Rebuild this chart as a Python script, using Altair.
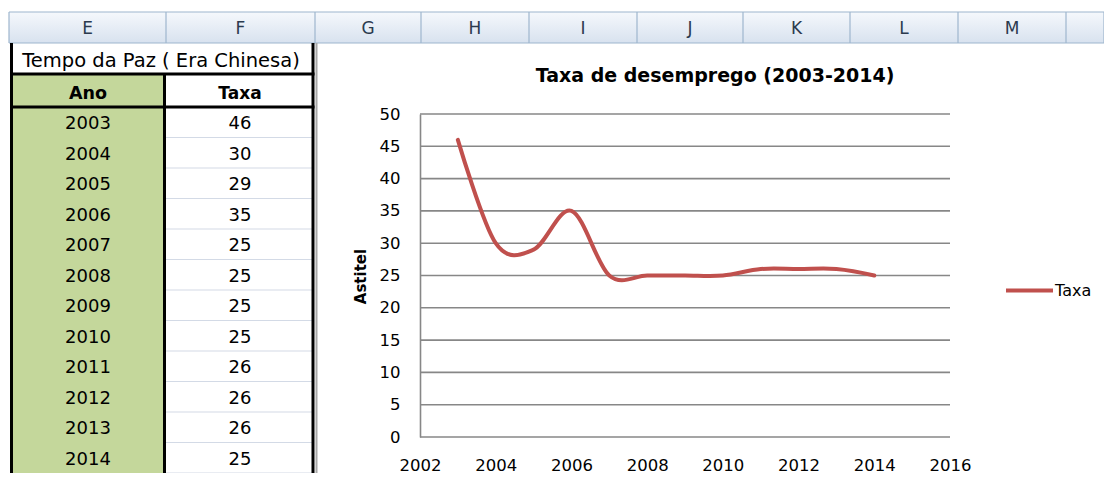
import altair as alt
import pandas as pd

# ---------------- data ----------------
anos = [2003, 2004, 2005, 2006, 2007, 2008, 2009, 2010, 2011, 2012, 2013, 2014]
taxas = [46, 30, 29, 35, 25, 25, 25, 25, 26, 26, 26, 25]
colunas = ["E", "F", "G", "H", "I", "J", "K", "L", "M", ""]
ticks_y = [0, 5, 10, 15, 20, 25, 30, 35, 40, 45, 50]
ticks_x = [2002, 2004, 2006, 2008, 2010, 2012, 2014, 2016]
serie = "Taxa"
titulo_grafico = "Taxa de desemprego (2003-2014)"
titulo_eixo_y = "Astitel"
titulo_tabela = "Tempo da Paz ( Era Chinesa)"
cab_ano = "Ano"
cab_taxa = "Taxa"

# ---------------- layout (pixels inside the chart) ----------------
W, H = 1096, 465
F_TAB = "DejaVu Sans"
F_CHART = "DejaVu Sans"
bordas = [1, 158, 307, 413, 521, 629, 735, 842, 950, 1058, 1096]
HDR_T, HDR_B = 4, 35
ROW0, ROW_H = 99, 30.5
row_scale = alt.Scale(domain=[0, 12], range=[ROW0, ROW0 + 12 * ROW_H])
xs = alt.Scale(domain=[ticks_x[0], ticks_x[-1]], range=[412, 942], nice=False, zero=False)
ys = alt.Scale(domain=[ticks_y[0], ticks_y[-1]], range=[429, 106], nice=False, zero=False)
one = pd.DataFrame({"k": [0]})

# header strip
hdr_bg = alt.Chart(one).mark_rect(
    color=alt.LinearGradient(
        gradient="linear",
        stops=[alt.GradientStop(color="#F5F8FC", offset=0), alt.GradientStop(color="#D8E2EF", offset=1)],
        x1=0, x2=0, y1=0, y2=1,
    )
).encode(x=alt.value(bordas[0]), x2=alt.value(W), y=alt.value(HDR_T), y2=alt.value(HDR_B))

hdr_v = alt.Chart(pd.DataFrame({"b": bordas})).mark_rule(color="#9EB6CE", strokeWidth=1.2).encode(
    x=alt.X("b:Q", scale=None, axis=None), y=alt.value(HDR_T), y2=alt.value(HDR_B))
hdr_h = alt.Chart(pd.DataFrame({"h": [HDR_T, HDR_B]})).mark_rule(color="#9EB6CE", strokeWidth=1.2).encode(
    y=alt.Y("h:Q", scale=None, axis=None), x=alt.value(bordas[0]), x2=alt.value(W))
centros = [(a + b) / 2 for a, b in zip(bordas[:-1], bordas[1:])]
hdr_txt = alt.Chart(pd.DataFrame({"l": colunas, "c": centros})).mark_text(
    font=F_TAB, fontSize=17, color="#2B3A4E").encode(
    x=alt.X("c:Q", scale=None, axis=None), y=alt.value(21), text="l:N")

# table
green = alt.Chart(one).mark_rect(color="#C4D79B").encode(
    x=alt.value(4), x2=alt.value(156), y=alt.value(66), y2=alt.value(H))
df_rows = pd.DataFrame({"linha": list(range(1, len(anos) + 1))})
row_lines = alt.Chart(df_rows).mark_rule(color="#D3DAE6", strokeWidth=1.2).encode(
    y=alt.Y("linha:Q", scale=row_scale, axis=None), x=alt.value(158), x2=alt.value(305))
gray_line = alt.Chart(one).mark_rule(color="#A8A8A8", strokeWidth=2).encode(
    x=alt.value(308.5), y=alt.value(HDR_B), y2=alt.value(H))
bv_out = alt.Chart(pd.DataFrame({"bx": [3.5, 305]})).mark_rule(color="black", strokeWidth=3).encode(
    x=alt.X("bx:Q", scale=None, axis=None), y=alt.value(HDR_B), y2=alt.value(H))
bv_mid = alt.Chart(pd.DataFrame({"bx": [156.5]})).mark_rule(color="black", strokeWidth=3).encode(
    x=alt.X("bx:Q", scale=None, axis=None), y=alt.value(66), y2=alt.value(H))
bh = alt.Chart(pd.DataFrame({"by": [66, 99]})).mark_rule(color="black", strokeWidth=3).encode(
    y=alt.Y("by:Q", scale=None, axis=None), x=alt.value(2), x2=alt.value(306.5))

t_title = alt.Chart(pd.DataFrame({"t": [titulo_tabela]})).mark_text(
    font=F_TAB, fontSize=19.5, color="black").encode(x=alt.value(153), y=alt.value(53), text="t:N")
t_ano = alt.Chart(pd.DataFrame({"t": [cab_ano]})).mark_text(
    font=F_TAB, fontSize=17.5, fontWeight="bold", color="black").encode(x=alt.value(80), y=alt.value(86), text="t:N")
t_taxa = alt.Chart(pd.DataFrame({"t": [cab_taxa]})).mark_text(
    font=F_TAB, fontSize=17, fontWeight="bold", color="black").encode(x=alt.value(232), y=alt.value(86), text="t:N")

df_tab = pd.DataFrame({
    "ano": [str(a) for a in anos],
    "taxa": [str(t) for t in taxas],
    "pos": [i + 0.5 for i in range(len(anos))],
})
t_anos = alt.Chart(df_tab).mark_text(font=F_TAB, fontSize=18, color="black", dy=2).encode(
    x=alt.value(80), y=alt.Y("pos:Q", scale=row_scale, axis=None), text="ano:N")
t_taxas = alt.Chart(df_tab).mark_text(font=F_TAB, fontSize=18, color="black", dy=2).encode(
    x=alt.value(232), y=alt.Y("pos:Q", scale=row_scale, axis=None), text="taxa:N")

# chart
c_title = alt.Chart(pd.DataFrame({"t": [titulo_grafico]})).mark_text(
    font=F_CHART, fontSize=19, fontWeight="bold", color="black").encode(
    x=alt.value(707), y=alt.value(68), text="t:N")

df_grid = pd.DataFrame({"v": ticks_y, "x0": ticks_x[0], "x1": ticks_x[-1]})
grid = alt.Chart(df_grid).mark_rule(color="#878787", strokeWidth=1.6).encode(
    x=alt.X("x0:Q", scale=xs, axis=None), x2="x1:Q", y=alt.Y("v:Q", scale=ys, axis=None))

df_line = pd.DataFrame({"ano": anos, "taxa": taxas, "serie": serie})
line = alt.Chart(df_line).mark_line(interpolate="cardinal", strokeWidth=4, strokeCap="round").encode(
    x=alt.X("ano:Q", scale=xs, axis=alt.Axis(
        orient="bottom", offset=-36, values=ticks_x, format="d", domain=False, ticks=False, tickSize=0,
        grid=False, labelPadding=20, labelFont=F_CHART, labelFontSize=16.5, labelColor="black",
        labelFlush=False, labelOverlap=False, title=None)),
    y=alt.Y("taxa:Q", scale=ys, axis=alt.Axis(
        orient="left", offset=-412, values=ticks_y, domain=True, domainColor="#878787", domainWidth=1.6,
        ticks=False, tickSize=0, grid=False, labelPadding=20, labelFont=F_CHART, labelFontSize=16.5,
        labelColor="black", labelFlush=False, labelOverlap=False,
        title=titulo_eixo_y, titleFont=F_CHART, titleFontSize=15, titleFontWeight="bold",
        titleColor="black", titleAngle=270, titleX=-60, titleY=268, titleAlign="center",
        titleBaseline="middle")),
    color=alt.Color("serie:N", scale=alt.Scale(range=["#C0504D"]), legend=alt.Legend(
        orient="none", legendX=996, legendY=257, title=None, symbolType="stroke",
        symbolSize=2209, symbolStrokeWidth=4, labelFont=F_CHART, labelFontSize=16,
        labelColor="black", labelOffset=0, padding=0)),
)

chart = alt.layer(
    hdr_bg, hdr_v, hdr_h, hdr_txt,
    green, row_lines, gray_line, bv_out, bv_mid, bh,
    t_title, t_ano, t_taxa, t_anos, t_taxas,
    c_title, grid, line,
).resolve_scale(
    x="independent", y="independent", color="independent"
).properties(
    width=W, height=H, padding=0, autosize=alt.AutoSizeParams(type="none"), background="white"
).configure_view(stroke=None)

chart.save("out.html", embed_options={"renderer": "svg", "actions": False})
